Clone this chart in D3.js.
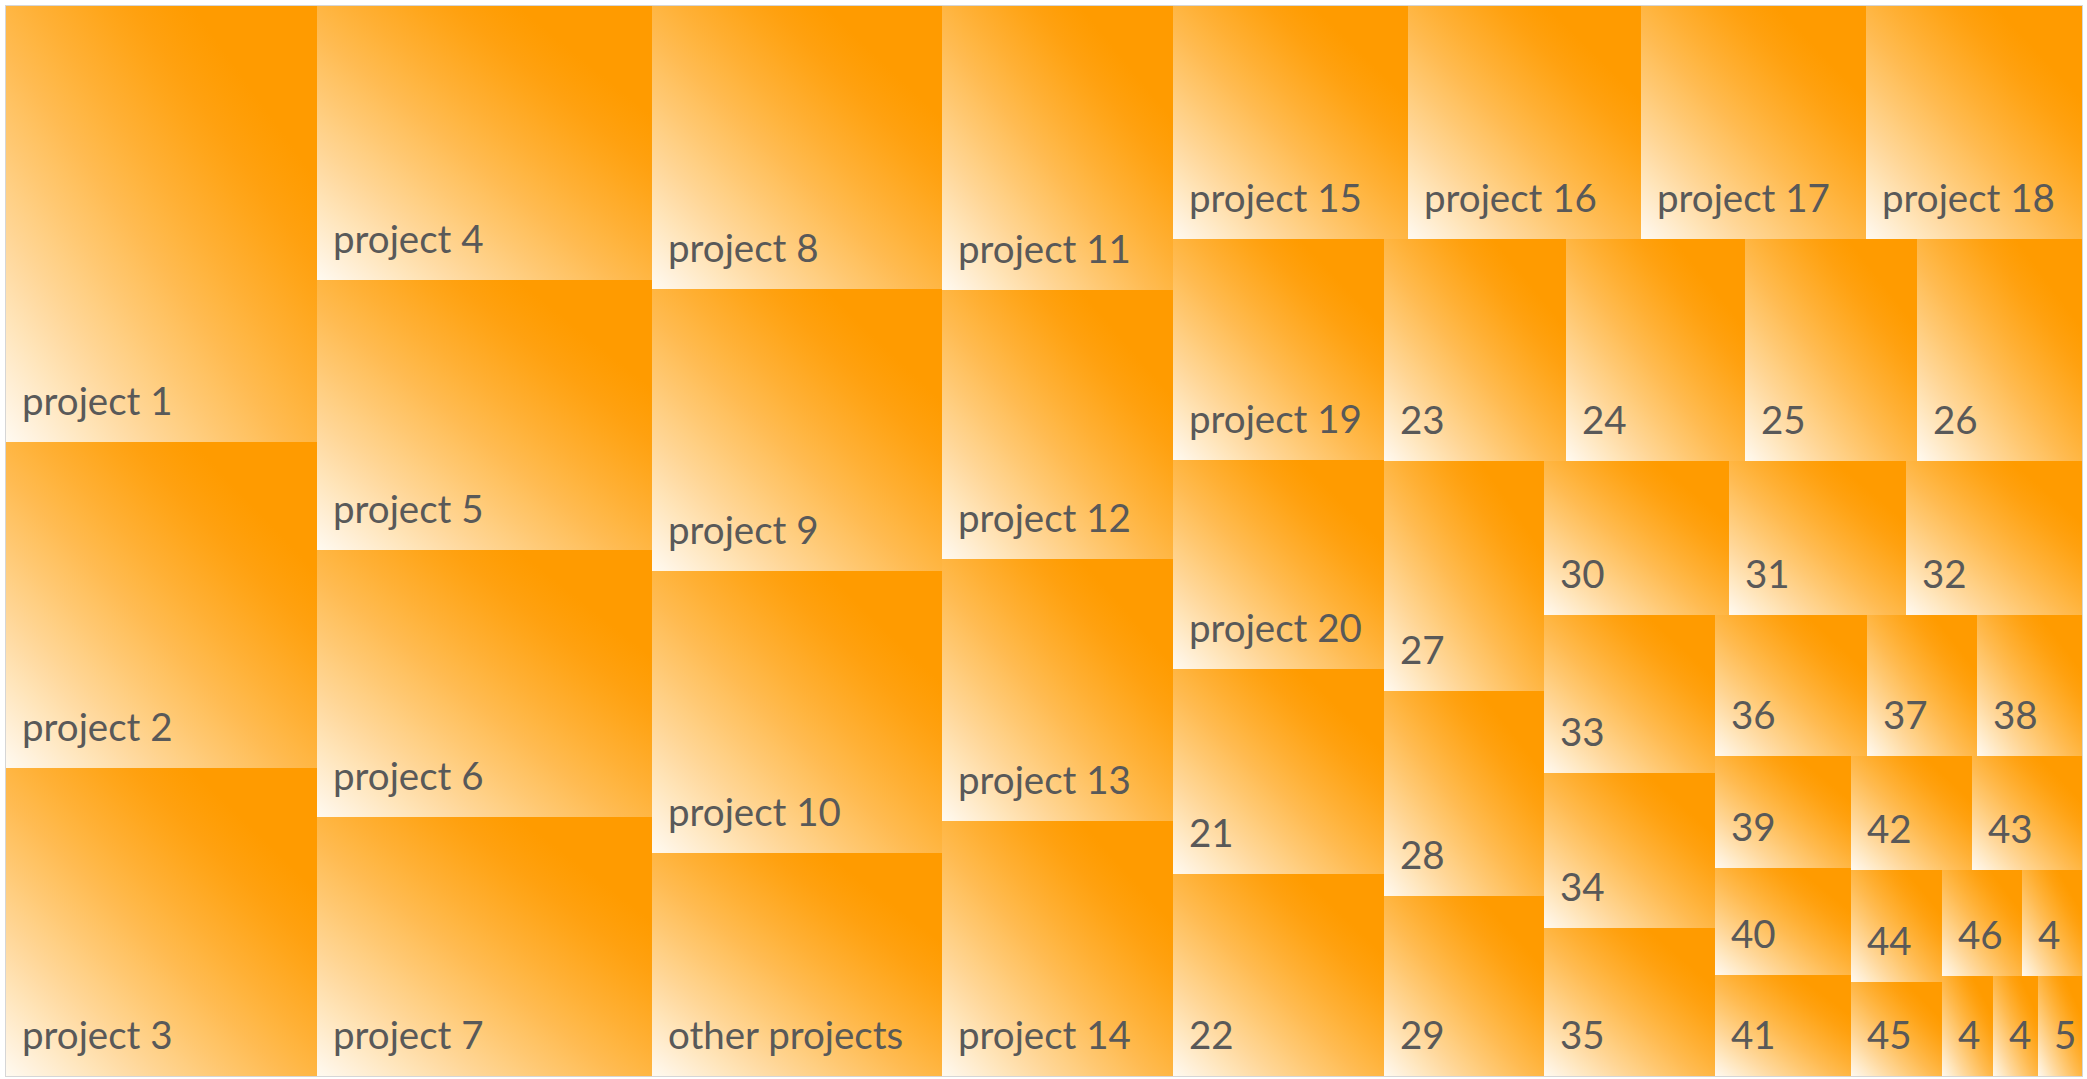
<!DOCTYPE html>
<html>
<head>
<meta charset="utf-8">
<title>Projects treemap</title>
<script src="https://cdn.jsdelivr.net/npm/d3@7"></script>
<style>
  html, body { margin: 0; padding: 0; background: #ffffff; }
  svg { display: block; }
  .tile-label { font-family: Lato, "Noto Sans", sans-serif; font-size: 38.5px; fill: #595959; }
</style>
</head>
<body>
<svg id="chart" width="2087" height="1079"></svg>
<script>
// Project names, in the order they are laid out
const projectNames = [
  "project 1", "project 2", "project 3", "project 4", "project 5",
  "project 6", "project 7", "project 8", "project 9", "project 10",
  "other projects",
  "project 11", "project 12", "project 13", "project 14", "project 15",
  "project 16", "project 17", "project 18", "project 19", "project 20",
  "21", "22", "23", "24", "25", "26", "27", "28", "29", "30",
  "31", "32", "33", "34", "35", "36", "37", "38", "39", "40",
  "41", "42", "43", "44", "45", "46", "47", "48", "49", "50"
];

// Size of each project
const projectValues = [
  1356, 1014, 958, 918, 905,
  894, 868, 821, 818, 818,
  647,
  656, 621, 605, 589, 548,
  543, 524, 503, 466, 441,
  433, 426, 404, 395, 382, 366, 368, 328, 288, 285,
  273, 271, 270, 265, 253, 214, 155, 148, 152, 146,
  137, 138, 125, 103, 86, 85, 64, 50, 45, 44
];

const width = 2087, height = 1079;
const frame = { x: 6, y: 6, w: 2076, h: 1070 };
const labelPad = 16;     // left inset of a tile label
const labelLift = 27;    // baseline distance above the tile bottom
const tailCount = 3;     // smallest tiles that share the last strip

const svg = d3.select("#chart");

// Diagonal fill: cream at the bottom-left corner, blending into orange towards the top-right
const cream = "#fffaf1", orange = "#ff9b00";
const mix = d3.interpolateRgb(cream, orange);
const defs = svg.append("defs");
const grad = defs.append("linearGradient")
  .attr("id", "tileFill")
  .attr("x1", 0).attr("y1", 1)
  .attr("x2", 1).attr("y2", 0);
const rampEnd = 0.8;
d3.range(0, 1.0001, 0.05).forEach(t => {
  const u = Math.min(t / rampEnd, 1);
  const k = 1 - Math.pow(1 - u, 1.3);   // near-linear, settling softly into full orange
  grad.append("stop")
    .attr("offset", `${(t * 100).toFixed(1)}%`)
    .attr("stop-color", mix(k));
});

const root = d3.hierarchy({
  name: "projects",
  children: projectNames.map((name, i) => ({ name, value: projectValues[i] }))
}).sum(d => d.value || 0);

// Squarified rows; the last few tiles sit side by side in one strip
function tile(parent, x0, y0, x1, y1) {
  const kids = parent.children;
  const head = kids.slice(0, kids.length - tailCount);
  const tail = kids.slice(kids.length - tailCount);
  const strip = { value: d3.sum(tail, d => d.value), children: tail };
  d3.treemapSquarify.ratio(1)({ value: parent.value, children: head.concat([strip]) }, x0, y0, x1, y1);
  const wide = (strip.x1 - strip.x0) >= (strip.y1 - strip.y0);
  (wide ? d3.treemapDice : d3.treemapSlice)(strip, strip.x0, strip.y0, strip.x1, strip.y1);
}

d3.treemap()
  .tile(tile)
  .size([frame.w, frame.h])
  .round(true)(root);

const g = svg.append("g").attr("transform", `translate(${frame.x},${frame.y})`);

const cells = g.selectAll("g.cell")
  .data(root.leaves())
  .join("g")
  .attr("class", "cell")
  .attr("transform", d => `translate(${d.x0},${d.y0})`);

cells.append("rect")
  .attr("width", d => d.x1 - d.x0)
  .attr("height", d => d.y1 - d.y0)
  .attr("fill", "url(#tileFill)");

cells.append("text")
  .attr("class", "tile-label")
  .attr("x", labelPad)
  .attr("y", d => d.y1 - d.y0 - labelLift)
  .each(function (d) {
    // Drop trailing characters that would run past the tile edge
    const el = d3.select(this);
    const room = d.x1 - d.x0 - 2 * labelPad;
    let s = d.data.name;
    el.text(s);
    while (s.length > 1 && this.getComputedTextLength() > room) {
      s = s.slice(0, -1);
      el.text(s);
    }
  });

// Thin frame around the plot area
svg.append("rect")
  .attr("x", frame.x - 0.5)
  .attr("y", frame.y - 0.5)
  .attr("width", frame.w + 1)
  .attr("height", frame.h + 1)
  .attr("fill", "none")
  .attr("stroke", "#d6d6d6")
  .attr("stroke-width", 1);
</script>
</body>
</html>
